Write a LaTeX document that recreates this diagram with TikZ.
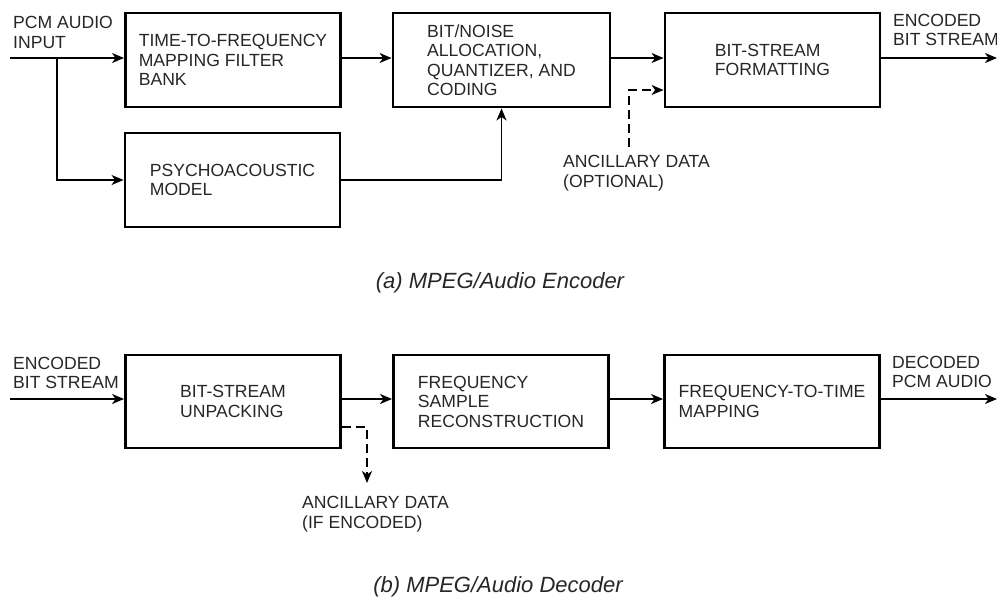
\documentclass[tikz,border=0pt]{standalone}
\usepackage{fontspec}
\setmainfont{Liberation Sans}
\usetikzlibrary{arrows.meta,calc}
\begin{document}
\begin{tikzpicture}[x=1pt,y=-1pt,
  blk/.style={draw, line width=2.9pt, minimum width=215pt, minimum height=94pt, align=left, inner sep=0pt, font=\fontsize{17.6}{19.5}\selectfont, text=black!85},
  lbl/.style={anchor=west, align=left, inner sep=0pt, font=\fontsize{17.6}{19.5}\selectfont, text=black!85},
  captxt/.style={inner sep=0pt, font=\fontsize{22}{26}\selectfont\itshape, text=black!85},
  arr/.style={line width=1.5pt, -{Stealth[length=12pt,width=10pt,inset=3.5pt]}},
  dsh/.style={arr, dash pattern=on 9pt off 5pt}]
\useasboundingbox (0,0) rectangle (997,598);
% encoder boxes
\node[blk] (ttf) at (233,60) {TIME-TO-FREQUENCY\\MAPPING FILTER\\BANK};
\node[blk] (psy) at (232.5,180) {PSYCHOACOUSTIC\\MODEL};
\node[blk, minimum width=217pt] (bna) at (501.5,60) {BIT/NOISE\\ALLOCATION,\\QUANTIZER, AND\\CODING};
\node[blk] (bsf) at (772.5,60) {BIT-STREAM\\FORMATTING};
% decoder boxes
\node[blk, minimum height=93pt] (bsu) at (233,401.5) {BIT-STREAM\\UNPACKING};
\node[blk, minimum height=93pt] (fsr) at (501,401.5) {FREQUENCY\\SAMPLE\\RECONSTRUCTION};
\node[blk, minimum height=93pt] (ftm) at (772,401.5) {FREQUENCY-TO-TIME\\MAPPING};
% labels
\node[lbl] (pcm) at (13,32.5) {PCM AUDIO\\INPUT};
\node[lbl] (encl) at (893,30) {ENCODED\\BIT STREAM};
\node[lbl] (anc1) at (563,173) {ANCILLARY DATA\\(OPTIONAL)};
\node[lbl] (encin) at (13,373) {ENCODED\\BIT STREAM};
\node[lbl] (decl) at (892,372) {DECODED\\PCM AUDIO};
\node[lbl] (anc2) at (302,514) {ANCILLARY DATA\\(IF ENCODED)};
\node[captxt] (capa) at (500,283) {(a) MPEG/Audio Encoder};
\node[captxt] (capb) at (498,587) {(b) MPEG/Audio Decoder};
% encoder connectors
\coordinate (in) at (10,58);
\coordinate (br) at (57,58);
\coordinate (out1) at (997,58);
\coordinate (a1) at (629,147);
\coordinate (a1in) at (629,90);
\draw[arr] (in) -- (in -| ttf.west);
\draw[arr] (br) |- (psy.west);
\draw[arr] (in -| ttf.east) -- (in -| bna.west);
\draw[arr] (in -| bna.east) -- (in -| bsf.west);
\draw[arr] (in -| bsf.east) -- (out1);
\draw[arr] (psy.east) -| (bna.south);
\draw[dsh] (a1) -- (a1in) -- (a1in -| bsf.west);
% decoder connectors
\coordinate (din) at (10,399);
\coordinate (out2) at (997,399);
\coordinate (d1) at ($(bsu.east)+(0,25.5)$);
\coordinate (a2) at (367,483);
\draw[arr] (din) -- (din -| bsu.west);
\draw[arr] (din -| bsu.east) -- (din -| fsr.west);
\draw[arr] (din -| fsr.east) -- (din -| ftm.west);
\draw[arr] (din -| ftm.east) -- (out2);
\draw[dsh] (d1) -| (a2);
\end{tikzpicture}
\end{document}
